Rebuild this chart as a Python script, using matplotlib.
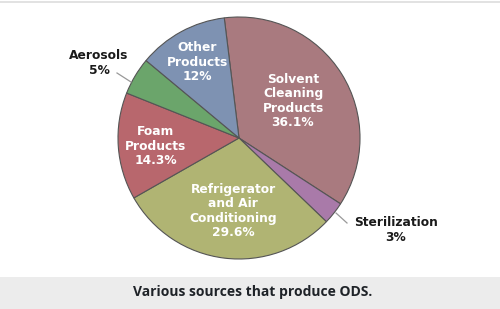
import matplotlib
matplotlib.use("Agg")
import matplotlib.pyplot as plt
from matplotlib.patches import Rectangle

categories = ["Solvent\nCleaning\nProducts", "Sterilization", "Refrigerator\nand Air\nConditioning",
              "Foam\nProducts", "Aerosols", "Other\nProducts"]
values = [36.1, 3, 29.6, 14.3, 5, 12]
pct_labels = ["36.1%", "3%", "29.6%", "14.3%", "5%", "12%"]
colors = ["#a97a7f", "#a97aa9", "#b0b473", "#b8676d", "#6ba56b", "#7e92b2"]
caption = "Various sources that produce ODS."

W, H = 500, 309
fig = plt.figure(figsize=(W / 100, H / 100), dpi=100)
ax = fig.add_axes([0, 0, 1, 1])

cx, cy, r = 239, H - 138, 121
wedges, _ = ax.pie(values, colors=colors, startangle=97, counterclock=False,
                   center=(cx, cy), radius=r, frame=True,
                   wedgeprops=dict(edgecolor="#555555", linewidth=0.8))
ax.set_xlim(0, W)
ax.set_ylim(0, H)
ax.axis("off")

fs = 8.8
inside = {0: (293, 101), 2: (233, 211), 3: (156, 146), 5: (197, 62)}
for i, (x, y) in inside.items():
    ax.text(x, H - y, categories[i] + "\n" + pct_labels[i], ha="center", va="center",
            color="white", fontsize=fs, fontweight="bold", family="DejaVu Sans",
            linespacing=1.12)

# outside labels
ax.text(99, H - 63, categories[4] + "\n" + pct_labels[4], ha="center", va="center",
        color="#1a1a1a", fontsize=fs, fontweight="bold", family="DejaVu Sans", linespacing=1.12)
ax.plot([117, 131], [H - 73, H - 82], color="#999999", lw=0.9)
ax.text(396, H - 230, categories[1] + "\n" + pct_labels[1], ha="center", va="center",
        color="#1a1a1a", fontsize=fs, fontweight="bold", family="DejaVu Sans", linespacing=1.12)
ax.plot([336, 347], [H - 213, H - 223], color="#999999", lw=0.9)

# top border line
ax.plot([0, W], [H - 2, H - 2], color="#dddddd", lw=1.2)
# caption band
ax.add_patch(Rectangle((0, 0), W, H - 277, facecolor="#ececec", edgecolor="none"))
ax.text(253, H - 292, caption, ha="center", va="center", color="#1f2328",
        fontsize=10, fontweight="bold", family="Open Sans")

fig.savefig("out.png", dpi=100)
